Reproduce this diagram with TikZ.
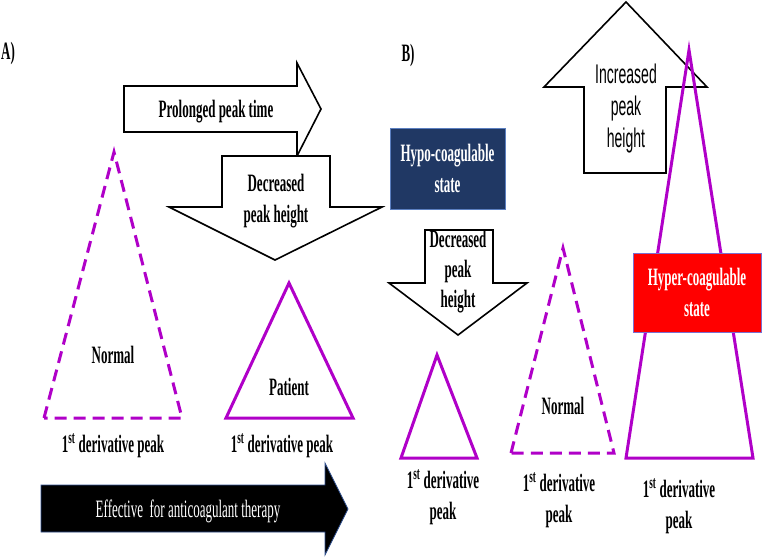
\documentclass[tikz,border=0pt]{standalone}
\usepackage{fontspec}
\setmainfont[FakeStretch=0.52]{Liberation Serif}
\newfontfamily\narrowsans[FakeStretch=0.52]{Liberation Sans}
\definecolor{tricol}{HTML}{B000C8}
\definecolor{hyponavy}{HTML}{203864}
\definecolor{hypoedge}{HTML}{5B7FC0}
\definecolor{hyperedge}{HTML}{7B6FD0}
\definecolor{effedge}{HTML}{2F4F8F}
\begin{document}
\begin{tikzpicture}[x=1pt,y=-1pt,
  arr/.style={draw=black, line width=1.6pt, fill=white, line join=miter},
  tri/.style={draw=tricol, line width=3pt, line join=miter},
  dtri/.style={tri, dash pattern=on 12pt off 7pt},
  lbl/.style={font=\fontsize{25}{31}\selectfont\bfseries, align=center, inner sep=0pt},
  slbl/.style={font=\fontsize{27}{32}\selectfont\narrowsans, align=center, inner sep=0pt},
  wlbl/.style={lbl, text=white},
  statebox/.style={wlbl, line width=1pt, inner sep=0pt}]
\path[use as bounding box] (0,0) rectangle (762,558);

% ---- Panel A ----
\node[lbl] (alabel) at (8,53) {A)};

% Prolonged peak time arrow
\draw[arr] (124,86) -- (297,86) -- (297,63) -- (321,109) -- (297,156) -- (297,132) -- (124,132) -- cycle;
\node[lbl] (prolonged) at (216,112) {Prolonged peak time};

% Decreased peak height arrow (A)
\draw[arr] (222,156) -- (330,156) -- (330,207) -- (382,207) -- (275,260) -- (169,207) -- (222,207) -- cycle;
\node[lbl] (decA) at (276,201) {Decreased\\peak height};

% Normal dashed triangle (A)
\draw[dtri] (44,418) -- (114,152) -- (182,418) -- cycle;
\node[lbl] (normA) at (113,355) {Normal};
\node[lbl] (derA1) at (113,446) {1\textsuperscript{st} derivative peak};

% Patient triangle
\draw[tri] (226,418) -- (289,283) -- (353,418) -- cycle;
\node[lbl] (patient) at (289,387) {Patient};
\node[lbl] (derA2) at (282,446) {1\textsuperscript{st} derivative peak};

% Effective arrow
\draw[fill=black, draw=effedge, line width=0.8pt, line join=miter] (41,485) -- (325,485) -- (325,463) -- (348,509) -- (325,555) -- (325,532) -- (41,532) -- cycle;
\node[font=\fontsize{25}{31}\selectfont, text=white, inner sep=0pt] (eff) at (188,511) {Effective\ \ for anticoagulant therapy};

% ---- Panel B ----
\node[lbl] (blabel) at (408,55) {B)};

\node[statebox, draw=hypoedge, fill=hyponavy, minimum width=115pt, minimum height=81pt] (hypo) at (447.5,168.5) {Hypo-coagulable\\state};

% Decreased peak height arrow (B)
\draw[arr] (425,230) -- (493,230) -- (493,283) -- (527,283) -- (458,335) -- (389,283) -- (425,283) -- cycle;
\node[lbl, font=\fontsize{25}{30}\selectfont\bfseries] (decB) at (458,272) {Decreased\\peak\\height};

% Increased peak height arrow
\draw[arr] (584,173) -- (584,87) -- (544,87) -- (626,2) -- (707,87) -- (666,87) -- (666,173) -- cycle;
\node[slbl] (incr) at (626,109) {Increased\\peak\\height};

% Small triangle (B)
\draw[tri] (401,458) -- (437,355) -- (477,458) -- cycle;
\node[lbl] (derB1) at (443,497) {1\textsuperscript{st} derivative\\peak};

% Normal dashed triangle (B)
\draw[dtri] (511,453) -- (563,248) -- (614,453) -- cycle;
\node[lbl] (normB) at (563,406) {Normal};
\node[lbl] (derB2) at (559,500) {1\textsuperscript{st} derivative\\peak};

% Big triangle (B)
\draw[tri] (626,458) -- (689,50) -- (753,458) -- cycle;
\node[statebox, draw=hyperedge, fill=red, minimum width=128pt, minimum height=79pt] (hyper) at (697,292.5) {Hyper-coagulable\\state};
\node[lbl] (derB3) at (679,506) {1\textsuperscript{st} derivative\\peak};
\end{tikzpicture}
\end{document}
